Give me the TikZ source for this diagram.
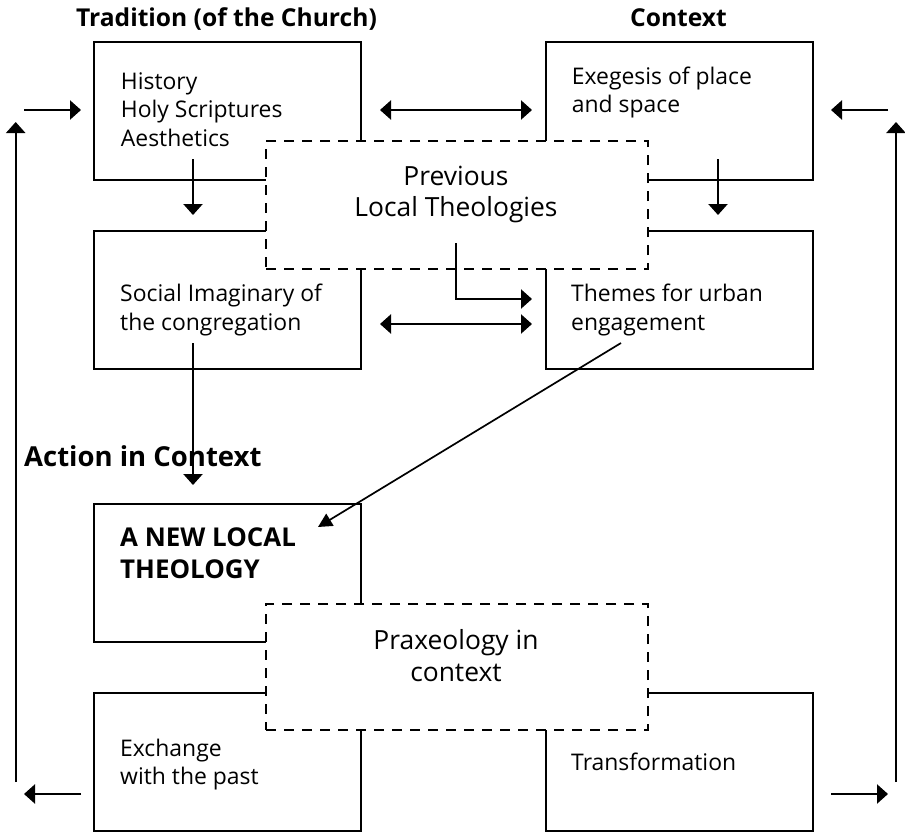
\documentclass[tikz,border=0pt]{standalone}
\usepackage{fontspec}
\setmainfont{Open Sans}
\usetikzlibrary{arrows.meta}
\begin{document}
\begin{tikzpicture}[x=1bp,y=-1bp,
  box/.style={draw, line width=2.4bp, minimum width=267bp, minimum height=138bp, inner sep=0, anchor=north west},
  dbox/.style={draw, line width=2.4bp, dash pattern=on 10bp off 8bp, fill=white, minimum width=382bp, inner sep=0, anchor=north west},
  tip/.tip={Triangle[length=11bp,width=19bp]},
  arr/.style={line width=2.4bp, -tip},
  darr/.style={line width=2.4bp, tip-tip},
  txt/.style={font=\fontsize{23}{28.5}\selectfont, align=left, anchor=north west, inner sep=0},
  btxt/.style={font=\bfseries\fontsize{26}{32}\selectfont, align=left, anchor=north west, inner sep=0},
  ctxt/.style={font=\fontsize{26.5}{32}\selectfont, align=center, anchor=north, inner sep=0},
  title/.style={font=\bfseries\fontsize{24.7}{30}\selectfont, anchor=base, inner sep=0}
]
\useasboundingbox (0,0) rectangle (905,832);

% boxes
\node[box] (tl) at (93,41) {};
\node[box] (tr) at (545,41) {};
\node[box] (ml) at (93,230) {};
\node[box] (mr) at (545,230) {};
\node[box] (nl) at (93,503) {};
\node[box] (bl) at (93,692) {};
\node[box] (br) at (545,692) {};
\node[dbox, minimum height=128bp] (prev) at (265,140) {};
\node[dbox, minimum height=126bp] (prax) at (265,603) {};

% titles
\node[title] (t1) at (226.5,26.7) {Tradition (of the Church)};
\node[title] (t2) at (678.5,26.7) {Context};
\node[title, anchor=base west, font=\bfseries\fontsize{27.6}{32}\selectfont] (t3) at (24,466.7) {Action in Context};

% box texts
\node[txt] (tltx) at (120.7,69.3) {\strut History\\Holy Scriptures\\Aesthetics};
\node[txt] (trtx) at (571.7,64.3) {\strut Exegesis of place\\and space};
\node[txt] (mltx) at (120,281.7) {\strut Social Imaginary of\\the congregation};
\node[txt] (mrtx) at (571,281.7) {\strut Themes for urban\\engagement};
\node[btxt] (nltx) at (120,524.3) {\strut A NEW LOCAL\\THEOLOGY};
\node[txt] (bltx) at (120,736) {\strut Exchange\\with the past};
\node[txt] (brtx) at (571,750) {\strut Transformation};
\node[ctxt] (prevtx) at (456,162.6) {\strut Previous\\Local Theologies};
\node[ctxt] (praxtx) at (456,626.6) {\strut Praxeology in\\context};

% coordinates for free arrow ends
\coordinate (l1) at (15.7,782);
\coordinate (l2) at (15.7,122);
\coordinate (l3) at (24,110);
\coordinate (l4) at (81,110);
\coordinate (l5) at (81,794);
\coordinate (l6) at (24,794);
\coordinate (r1) at (896,782);
\coordinate (r2) at (896,122);
\coordinate (r3) at (888,110);
\coordinate (r4) at (831,110);
\coordinate (r5) at (831,794);
\coordinate (r6) at (888,794);
\coordinate (h1) at (380,110);
\coordinate (h2) at (532,110);
\coordinate (h3) at (380,324);
\coordinate (h4) at (532,324);
\coordinate (d1) at (193,159);
\coordinate (d2) at (193,215);
\coordinate (d3) at (718,159);
\coordinate (d4) at (718,215);
\coordinate (p1) at (456,243);
\coordinate (p2) at (456,299);
\coordinate (p3) at (532,299);
\coordinate (s1) at (193,343);
\coordinate (s2) at (193,485);
\coordinate (g1) at (621,343);
\coordinate (g2) at (318,527);

% connectors
\draw[arr] (l1) -- (l2);
\draw[arr] (l3) -- (l4);
\draw[arr] (l5) -- (l6);
\draw[arr] (r1) -- (r2);
\draw[arr] (r3) -- (r4);
\draw[arr] (r5) -- (r6);
\draw[darr] (h1) -- (h2);
\draw[darr] (h3) -- (h4);
\draw[arr] (d1) -- (d2);
\draw[arr] (d3) -- (d4);
\draw[arr] (p1) -- (p2) -- (p3);
\draw[arr] (s1) -- (s2);
\draw[line width=1.7bp, -{Triangle[length=14bp,width=14bp]}] (g1) -- (g2);
\end{tikzpicture}
\end{document}
